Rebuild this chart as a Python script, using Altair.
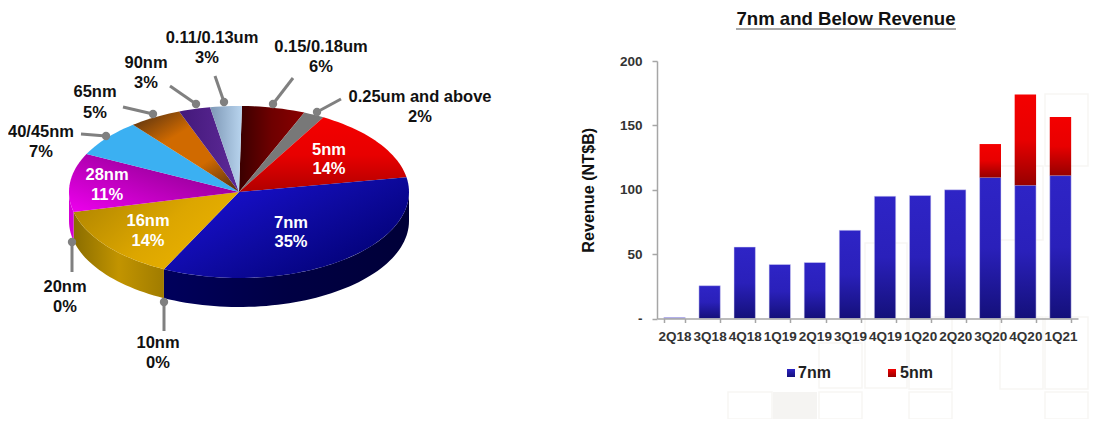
import math
import altair as alt
import pandas as pd

W, H = 1096, 411
FONT = "Liberation Sans"

# ---- pie data (percent of revenue, clockwise from the top)
pie_names = ["0.15/0.18um", "0.25um and above", "5nm", "7nm", "10nm", "16nm", "20nm", "28nm", "40/45nm", "65nm", "90nm", "0.11/0.13um"]
pie_shares = [6, 2, 14, 35, 0, 14, 0, 11, 7, 5, 3, 3]
START_DEG = 1.0
RX, RY, DEPTH = 170, 86, 29
CX, CY = 231, 184

# ---- bar data (NT$B)
quarters = ["2Q18", "3Q18", "4Q18", "1Q19", "2Q19", "3Q19", "4Q19", "1Q20", "2Q20", "3Q20", "4Q20", "1Q21"]
rev_7nm = [0.8, 25.5, 55.5, 42, 43.5, 68.5, 95, 95.5, 100, 109.5, 103.5, 111]
rev_5nm = [0, 0, 0, 0, 0, 0, 0, 0, 0, 26, 70.5, 45.5]


def grad(stops, x1=0, y1=0, x2=1, y2=0):
    n = len(stops)
    return {
        "gradient": "linear", "x1": x1, "y1": y1, "x2": x2, "y2": y2,
        "stops": [{"offset": i / (n - 1), "color": s} for i, s in enumerate(stops)],
    }


top_fill = {
    "0.15/0.18um": grad(["#3a0000", "#6e0000", "#8a0000"]),
    "0.25um and above": "#787878",
    "5nm": grad(["#f40000", "#e80000", "#b00000"], 0, 0, 0, 1),
    "7nm": grad(["#1a10d6", "#0e0aa0", "#000070"], 0.1, 0.1, 1, 0.8),
    "16nm": grad(["#b58900", "#dca600", "#eeb500"], 0, 0.3, 1, 0.8),
    "28nm": grad(["#ee00ee", "#b400b4", "#760080"], 0, 1, 1, 0),
    "40/45nm": "#3bb0f2",
    "65nm": grad(["#5c3410", "#d06a00", "#d06a00", "#5c3410"], 0.1, 0, 0.9, 1),
    "90nm": grad(["#43187a", "#5e2a98"]),
    "0.11/0.13um": grad(["#7e98b6", "#b8d4ee"]),
}
wall_fill = {
    "7nm": grad(["#00005c", "#000044", "#000038"]),
    "16nm": grad(["#8a6d00", "#c29400", "#a07c00"]),
    "28nm": "#d400d4",
}


def ell(t, dy=0):
    r = math.radians(t)
    return [RX * math.sin(r), -RY * math.cos(r) + dy]


def arc_pts(a, b, dy=0):
    n = max(2, int(abs(b - a) / 2) + 2)
    return [ell(a + (b - a) * i / (n - 1), dy) for i in range(n)]


def feature(ring):
    ring = ring + [ring[0]]
    return {"type": "Feature", "properties": {}, "geometry": {"type": "Polygon", "coordinates": [ring]}}


def shape(ring, fill):
    return (alt.Chart(alt.Data(values=[feature(ring)]))
            .mark_geoshape(filled=True, fill=fill, strokeWidth=0)
            .project(type="identity", scale=1, translate=[CX, CY]))


walls, tops = [], []
cum = START_DEG
for name, share in zip(pie_names, pie_shares):
    a, b = cum, cum + share * 3.6
    cum = b
    if share == 0:
        continue
    lo, hi = max(a, 90), min(b, 270)
    if hi > lo and name in wall_fill:
        walls.append(shape(arc_pts(lo, hi) + arc_pts(hi, lo, DEPTH), wall_fill[name]))
    tops.append(shape([[0, 0]] + arc_pts(a, b), top_fill[name]))

# ---- pie annotations (page pixels)
leader_from = [(81, 134), (123, 107), (170, 86), (215, 76), (293, 78), (341, 99), (72, 272), (164, 331)]
leader_to = [(106, 136), (153, 114), (196, 104), (224, 102), (273, 104), (317, 112), (72, 242), (164, 302)]
leaders = pd.DataFrame(
    [{"g": i, "o": 0, "x": f[0] - 8, "y": f[1] - 8} for i, f in enumerate(leader_from)]
    + [{"g": i, "o": 1, "x": t[0] - 8, "y": t[1] - 8} for i, t in enumerate(leader_to)]
)
dots = leaders[leaders.o == 1]

black_labels = [
    ("0.11/0.13um", 212, 38), ("3%", 207, 58), ("0.15/0.18um", 321, 47), ("6%", 321, 67),
    ("90nm", 146, 63), ("3%", 146, 83), ("65nm", 95, 92), ("5%", 95, 113),
    ("40/45nm", 41, 132), ("7%", 41, 152), ("0.25um and above", 420, 97), ("2%", 420, 117),
    ("20nm", 65, 287), ("0%", 65, 307), ("10nm", 158, 343), ("0%", 158, 363),
]
white_labels = [
    ("5nm", 329, 150), ("14%", 329, 169), ("28nm", 107, 175), ("11%", 107, 195),
    ("7nm", 291, 223), ("35%", 291, 242), ("16nm", 148, 221), ("14%", 148, 241),
]


def label_df(rows):
    return pd.DataFrame([{"t": t, "x": x - 8, "y": y - 8} for t, x, y in rows])


px = alt.X("x:Q", scale=None, axis=None)
py = alt.Y("y:Q", scale=None, axis=None)

leader_layer = alt.Chart(leaders).mark_line(color="#808080", strokeWidth=3).encode(
    x=px, y=py, detail="g:N", order="o:Q")
dot_layer = alt.Chart(dots).mark_circle(color="#808080", size=70, opacity=1).encode(x=px, y=py)
black_layer = alt.Chart(label_df(black_labels)).mark_text(
    font=FONT, fontWeight="bold", fontSize=16.5, color="#111111").encode(x=px, y=py, text="t:N")
white_layer = alt.Chart(label_df(white_labels)).mark_text(
    font=FONT, fontWeight="bold", fontSize=16.5, color="#ffffff").encode(x=px, y=py, text="t:N")

# ---- faint background squares of the slide
squares = [
    (1045, 94, 1088, 166), (1000, 166, 1043, 240), (865, 243, 907, 388), (1000, 317, 1043, 389),
    (909, 317, 952, 389), (1045, 317, 1088, 389), (819, 343, 862, 388),
    (728, 392, 772, 419), (819, 392, 862, 419), (909, 392, 952, 419), (1045, 392, 1088, 419),
]
sq_layers = [
    alt.Chart(pd.DataFrame({"a": [0]})).mark_rect(fill="#ffffff", stroke="#f7f6f4", strokeWidth=1.5).encode(
        x=alt.value(a - 8), x2=alt.value(c - 8), y=alt.value(b - 8), y2=alt.value(d - 8))
    for a, b, c, d in squares
]
sq_layers.append(
    alt.Chart(pd.DataFrame({"a": [0]})).mark_rect(fill="#f5f4f2").encode(
        x=alt.value(773 - 8), x2=alt.value(817 - 8), y=alt.value(392 - 8), y2=alt.value(419))
)

# ---- bars
bars = pd.DataFrame({"q": quarters, "a": rev_7nm, "b": rev_5nm})
bars["top"] = bars["a"] + bars["b"]
AX_X0, AX_X1 = 657 - 8, 1078 - 8
AX_Y0, AX_Y1 = 318.5 - 8, 61 - 8
x_scale = alt.Scale(domain=quarters, range=[AX_X0, AX_X1], paddingInner=0.39, paddingOuter=0.195)
y_scale = alt.Scale(domain=[0, 200], range=[AX_Y0, AX_Y1], nice=False)
axis_x = alt.Axis(
    title=None, orient="bottom", offset=AX_Y0 - H, labelAngle=0, labelFont=FONT, labelFontWeight="bold",
    labelFontSize=13.5, labelColor="#333333", domainColor="#a6a6a6", domainWidth=1.5, tickColor="#a6a6a6",
    tickWidth=1.5, tickSize=4, labelPadding=7, tickBand="extent", labelOverlap=False, grid=False, zindex=1)
axis_y = alt.Axis(
    title="Revenue (NT$B)", orient="left", offset=-AX_X0, values=[0, 50, 100, 150, 200],
    labelExpr="datum.value === 0 ? '-' : datum.label", labelFont=FONT, labelFontWeight="bold",
    labelFontSize=13.5, labelColor="#333333", domainColor="#a6a6a6", domainWidth=1.5, tickColor="#a6a6a6",
    tickWidth=1.5, tickSize=5, labelPadding=10, grid=False, titleFont=FONT, titleFontWeight="bold",
    titleFontSize=16.2, titleColor="#111111", titlePadding=23, zindex=1)

blue = grad(["#2e24c6", "#2a20ba", "#14107a"], 0, 0, 0, 1)
red = grad(["#f40000", "#e80000", "#960000"], 0, 0, 0, 1)
bar_7 = alt.Chart(bars).mark_bar(fill=blue, stroke="#d8d6f4", strokeWidth=0.5, width=21.4).encode(
    x=alt.X("q:N", sort=quarters, scale=x_scale, axis=axis_x),
    y=alt.Y("a:Q", scale=y_scale, axis=axis_y))
bar_5 = alt.Chart(bars[bars.b > 0]).mark_bar(fill=red, width=21.4).encode(
    x=alt.X("q:N", sort=quarters, scale=x_scale, axis=axis_x),
    y=alt.Y("a:Q", scale=y_scale, axis=axis_y), y2="top:Q")
bar_group = alt.layer(bar_7, bar_5)

# ---- title and legend of the bar panel
title_layer = alt.Chart(pd.DataFrame({"t": ["7nm and Below Revenue"], "x": [846 - 8], "y": [19 - 8]})).mark_text(
    font=FONT, fontWeight="bold", fontSize=18.6, color="#111111").encode(x=px, y=py, text="t:N")
underline = alt.Chart(pd.DataFrame({"x": [736 - 8, 956 - 8], "y": [29 - 8, 29 - 8]})).mark_line(
    color="#555555", strokeWidth=1.2).encode(x=px, y=py)
legend_blue = grad(["#2e24c6", "#14107a"], 0, 0, 0, 1)
legend_red = grad(["#f40000", "#960000"], 0, 0, 0, 1)
legend_sq_a = alt.Chart(pd.DataFrame({"x": [791 - 8], "y": [373 - 8]})).mark_point(
    shape="square", filled=True, fill=legend_blue, opacity=1, size=64, strokeWidth=0).encode(x=px, y=py)
legend_sq_b = alt.Chart(pd.DataFrame({"x": [892 - 8], "y": [373 - 8]})).mark_point(
    shape="square", filled=True, fill=legend_red, opacity=1, size=64, strokeWidth=0).encode(x=px, y=py)
legend_text = alt.Chart(pd.DataFrame({"t": ["7nm", "5nm"], "x": [798 - 8, 900 - 8], "y": [373 - 8, 373 - 8]})).mark_text(
    font=FONT, fontWeight="bold", fontSize=16, color="#222222", align="left").encode(x=px, y=py, text="t:N")

chart = alt.layer(
    *sq_layers, *walls, *tops, leader_layer, dot_layer, black_layer, white_layer,
    bar_group, title_layer, underline, legend_sq_a, legend_sq_b, legend_text,
).properties(
    width=W, height=H, padding=0, autosize=alt.AutoSizeParams(type="none"), background="white"
).configure_view(stroke=None)

chart.save("out.html", embed_options={"renderer": "svg", "actions": False})
